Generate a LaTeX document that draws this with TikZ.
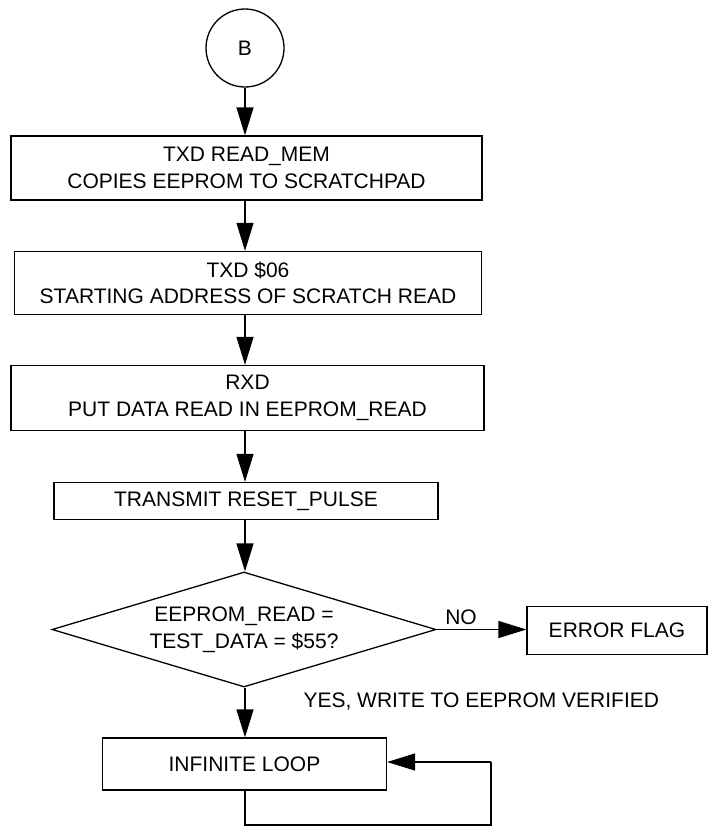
\documentclass[tikz,border=0pt]{standalone}
\usepackage{fontspec}
\setmainfont{Liberation Sans}
\usetikzlibrary{shapes.geometric,arrows.meta}
\begin{document}
\begin{tikzpicture}[x=1pt,y=-1pt,
  every node/.style={font=\fontsize{21}{26.5}\selectfont},
  flowbox/.style={draw,line width=1.3pt,inner sep=0pt,align=center},
  decision/.style={draw,diamond,aspect=3.34,line width=1.3pt,inner sep=0pt,align=center},
  connector/.style={draw,circle,line width=1.3pt,inner sep=0pt,minimum size=78pt},
  arr/.style={line width=1.3pt,-{Triangle[length=28pt,width=17pt]}},
  plain/.style={line width=1.3pt}]
\useasboundingbox (0,0) rectangle (710,827);

% main column
\node[connector] (c) at (245,48) {B};
\node[flowbox,minimum width=471pt,minimum height=64pt] (b1) at (246.5,168)
  {TXD READ\_MEM\\COPIES EEPROM TO SCRATCHPAD};
\node[flowbox,minimum width=467pt,minimum height=63pt] (b2) at (248,283)
  {TXD \$06\\STARTING ADDRESS OF SCRATCH READ};
\node[flowbox,minimum width=473pt,minimum height=65pt] (b3) at (247.5,398)
  {RXD\\PUT DATA READ IN EEPROM\_READ};
\node[flowbox,minimum width=384pt,minimum height=37pt] (b4) at (246,501)
  {TRANSMIT RESET\_PULSE};
\node[decision,minimum width=384pt,minimum height=115pt] (d) at (244,629.5)
  {EEPROM\_READ =\\TEST\_DATA = \$55?};
\node[flowbox,minimum width=180pt,minimum height=48pt] (err) at (617,630.5)
  {ERROR FLAG};
\node[flowbox,minimum width=284pt,minimum height=52pt] (il) at (244.5,764)
  {INFINITE LOOP};

% branch labels
\node (no) at (461,617) {NO};
\node[anchor=west] (yes) at (300,702) {YES, WRITE TO EEPROM VERIFIED};

% connectors
\draw[arr] (c.south) -- (b1.north -| c.south);
\draw[arr] (b1.south -| c.south) -- (b2.north -| c.south);
\draw[arr] (b2.south -| c.south) -- (b3.north -| c.south);
\draw[arr] (b3.south -| c.south) -- (b4.north -| c.south);
\draw[arr] (b4.south -| c.south) -- (d.north -| c.south);
\draw[arr] (d.east) -- (err.west |- d.east);
\draw[arr] (d.south -| c.south) -- (il.north -| c.south);

% loop back into the final box
\coordinate (lb) at (245,825);
\coordinate (lr) at (491,825);
\coordinate (lt) at (491,762);
\draw[plain] (il.south -| lb) -- (lb) -- (lr) -- (lt);
\draw[arr] (lt) -- (il.east |- lt);
\end{tikzpicture}
\end{document}
